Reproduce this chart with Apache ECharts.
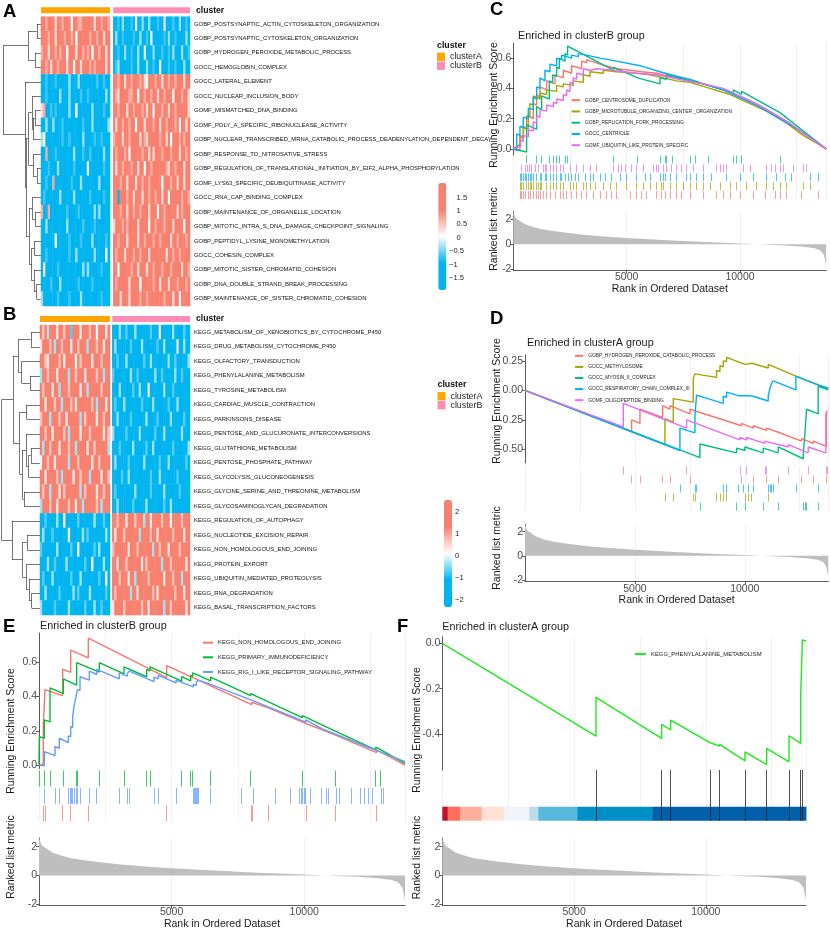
<!DOCTYPE html>
<html>
<head>
<meta charset="utf-8">
<script src="https://cdn.jsdelivr.net/npm/echarts@6.0.0/dist/echarts.min.js"></script>
<style>
html,body{margin:0;padding:0;background:#fff;}
#chart{width:830px;height:931px;}
</style>
</head>
<body>
<div id="chart"></div>
<script>
// ---------------- heatmap data (A: GO terms, B: KEGG terms) ----------------
var goTerms = [
  'GOBP_POSTSYNAPTIC_ACTIN_CYTOSKELETON_ORGANIZATION',
  'GOBP_POSTSYNAPTIC_CYTOSKELETON_ORGANIZATION',
  'GOBP_HYDROGEN_PEROXIDE_METABOLIC_PROCESS',
  'GOCC_HEMOGLOBIN_COMPLEX',
  'GOCC_LATERAL_ELEMENT',
  'GOCC_NUCLEAR_INCLUSION_BODY',
  'GOMF_MISMATCHED_DNA_BINDING',
  'GOMF_POLY_A_SPECIFIC_RIBONUCLEASE_ACTIVITY',
  'GOBP_NUCLEAR_TRANSCRIBED_MRNA_CATABOLIC_PROCESS_DEADENYLATION_DEPENDENT_DECAY',
  'GOBP_RESPONSE_TO_NITROSATIVE_STRESS',
  'GOBP_REGULATION_OF_TRANSLATIONAL_INITIATION_BY_EIF2_ALPHA_PHOSPHORYLATION',
  'GOMF_LYS63_SPECIFIC_DEUBIQUITINASE_ACTIVITY',
  'GOCC_RNA_CAP_BINDING_COMPLEX',
  'GOBP_MAINTENANCE_OF_ORGANELLE_LOCATION',
  'GOBP_MITOTIC_INTRA_S_DNA_DAMAGE_CHECKPOINT_SIGNALING',
  'GOBP_PEPTIDYL_LYSINE_MONOMETHYLATION',
  'GOCC_COHESIN_COMPLEX',
  'GOBP_MITOTIC_SISTER_CHROMATID_COHESION',
  'GOBP_DNA_DOUBLE_STRAND_BREAK_PROCESSING',
  'GOBP_MAINTENANCE_OF_SISTER_CHROMATID_COHESION'
];
var keggTerms = [
  'KEGG_METABOLISM_OF_XENOBIOTICS_BY_CYTOCHROME_P450',
  'KEGG_DRUG_METABOLISM_CYTOCHROME_P450',
  'KEGG_OLFACTORY_TRANSDUCTION',
  'KEGG_PHENYLALANINE_METABOLISM',
  'KEGG_TYROSINE_METABOLISM',
  'KEGG_CARDIAC_MUSCLE_CONTRACTION',
  'KEGG_PARKINSONS_DISEASE',
  'KEGG_PENTOSE_AND_GLUCURONATE_INTERCONVERSIONS',
  'KEGG_GLUTATHIONE_METABOLISM',
  'KEGG_PENTOSE_PHOSPHATE_PATHWAY',
  'KEGG_GLYCOLYSIS_GLUCONEOGENESIS',
  'KEGG_GLYCINE_SERINE_AND_THREONINE_METABOLISM',
  'KEGG_GLYCOSAMINOGLYCAN_DEGRADATION',
  'KEGG_REGULATION_OF_AUTOPHAGY',
  'KEGG_NUCLEOTIDE_EXCISION_REPAIR',
  'KEGG_NON_HOMOLOGOUS_END_JOINING',
  'KEGG_PROTEIN_EXPORT',
  'KEGG_UBIQUITIN_MEDIATED_PROTEOLYSIS',
  'KEGG_RNA_DEGRADATION',
  'KEGG_BASAL_TRANSCRIPTION_FACTORS'
];
// one char per sample, read by eye: R high .. B low
var cellLevels = {R: 1.8, q: 0.7, p: 0.35, w: 0, c: -0.35, d: -0.7, B: -1.8};
var goClusterA = [
  'RRqRR RpRRq RRRwR RqqRR RRRpR RqRRq',
  'RRRqR RpRRR qRRqR wRRRR RqRRq RRpRR',
  'qRRpR RqRqR RwRRR pRRqR qRwRR qRRpR',
  'RRqRp RRqRR RpRRw RRpRR RqRqR RRRpR',
  'BBdBB BdBBB BBcBB BcBBB BBBBd BBdBB',
  'BBdBB BBBcB BBcBB BBdBB dBBBB BBBcB',
  'pqBBd BdBBB BBcBB wBBBB BBcBB BBdBB',
  'BBcBB cBBBd BBBBB BBBdB BBcBB BBBBc',
  'cwBBB BBBBd BBdBB BBBcB BBBdB BdBBB',
  'BBqBB BdBBB BBBBc BBBdB BdBBB BBcBB',
  'BBBdB BBcBB BBBBd BBBBB wBBBB BBdBB',
  'BBdBB qBBBB BBBdB BBcBB BBBBB cBBBB',
  'BdBBB BBBcB BBBBc BBBBB BdBBB BBdBB',
  'qBBqB BBBBB BdBBB BdBBB BBBcB cBBBB',
  'BBcBB BBBBB BcBBB BBBdB BBBdB BBBBB',
  'BBBBB BwBBB BBdBB BBdBB BBcBB BBBdB',
  'BBdBB BBBBB BBdBB cBBBB BBBcB BBBwB',
  'BpBBB BBdBB BBBBB BBBcB cBBBB BdBBB',
  'BBBBd BBBcB BBBBB BdBBB BBdBB BBBBB',
  'cBBBB BBdBB BBdBB BBcBB BBBBB BdBBB'
];
var goClusterB = [
  'BBdBc BBBdB wBBcB BcBBB dBBpB BBdBB cBBdB',
  'BcBBd BBBBd BBcBB dBwBB BBBdB cBBdB BBBcB',
  'BBdBB cBBdB BcBBw BBBcB BBdBB dBcBB BcBBd',
  'BdcBB BBBdB BcBBB cBBdB BwBBB dBBdB BBcBB',
  'RRqRR pRRqR RRqRp wRRRq RRpRR qRRqR RRpRR',
  'RqpRR RRqqR RwRRq RRqRR pRRqR RRwRR RqRRp',
  'RRqRR RpRRq RRRqR pRRwR RRqRR pRRqR RRRRp',
  'RpRRq RRqRR wRRRp RRRqR RpRRq RRRqR wRRpR',
  'qRRRp RRqRR RRpRq pRRRR RqRRp RwRRR qRqRR',
  'RqRRR qRwRR RRRqR RpRpR RRqRR RqRRR pRRqR',
  'RpRRq RRRqR RpRRw RRqRR RRRRq pRRqR RRpRR',
  'RRRqR RpRRR pRRqR RqRRR RRwRR RqRRp RRpRR',
  'RRBRR RqRRp RRRpR RqRRq RRpRR wRRRR RqRRq',
  'RRRqR RpRRq RRqRR RpRRR wRRqR RRRRp RqRRR',
  'pRRRq RqRRR RpRRR RwRRq RRRqR RRpRR RRwRR',
  'RRqRR RpRRR RpRRq RRRqR RqRRR RpRRq RRRqR',
  'RqRRR pRRRq RRqRR RpRRR RRRRp RRqRR qRRRR',
  'RRwRR RRRqR RpRRR pRRqR RRqRR RqRRR RpRRq',
  'RqRRR RRpRR RRwRR RRRqR RpRRR pRRRq RRRqR',
  'RRRpR RRpRR RRqRR qRRRR RRRqR RRpRR wRRRR'
];
var keggClusterA = [
  'RqRcR RRpRR qRRdR RRpRR RqRRw RRRpR',
  'pRRRq RcRRq RRRpR RqRRR cRRRq RRpRR',
  'RRqpR RRRqR pRRRR wRqRR RRpRR RqRRR',
  'cRRqR RRpRR RRcRR qRRRp RRRRq RRcRR',
  'RqRRR pRRcR RRqRR RRpRR cRRRR RqRRR',
  'RRpRR RqRRc RRRqR pRRRR RRqRc RRRpR',
  'qRRRc RRRqR RpRRR RRcRq RRRRp RRqRR',
  'RRqRR pRRRR qRcRR RRpRR RqRRR RRpRq',
  'RcRRq RRRpR RRqRR cRRRR pRRqR RRRRc',
  'wRRqR RpRRR RRcRR RqRRR RRpRR qRRRR',
  'RRpRR RRqRc RRRRp RRqRR RcRRR RpRRq',
  'RqRRc RRRpR qRRRR RRcRq RRRRp RRqRR',
  'cRRRq RRpRR RRqRR pRRcR RRRRq RcRRR',
  'BBdBB BBcBB pBBBB BdBBB BBBcB BBdBB',
  'BcBBB dBBBB BBpBB BBBcB dBBBB BBBcB',
  'dBBBB BBcBB BBBdB BpBBB BBBdB cBBBB',
  'BBBcB BdBBB BcBBB BBBBd BBpBB BBcBB',
  'BdBBB cBBBB BBBdB BBcBB BBBBB dBBpB',
  'BBcBB BBBdB BBBBc BdBBB BcBBB BBBdB',
  'cBBBB BdBBB BBcBB BBBBd BBBcB BdBBB'
];
var keggClusterB = [
  'BBBcB BdBBB cBBBB BBdBB BpBBB BBcBB BBdBB',
  'BcBBB BBBdB BBBcB BBBBB dBBcB BBBBp BBcBB',
  'BBdBB BcBBB BBBBd BBcBB BBBBB cBBdB BBBBc',
  'dBBBB BBBcB BdBBB BBBBc BBdBB BBBcB BdBBB',
  'BBBcB BBBBd BBcBB BpBBB BBBcB BBdBB BBBBB',
  'BdBBB cBBBB BBBdB BBBcB BBBBB dBBBc BBBBB',
  'BBcBB BBBdB BBBBB cBBBB dBBBB BcBBB BBdBB',
  'cBBBB BdBBB BBcBB BBBBd BBBcB BBBBB BcBBB',
  'BBBdB BBBBc BBBBB dBBcB BBBBB BBdBB BBBBc',
  'BcBBB BBdBB BBBBc BBBBB BdBBB cBBBB BBBdB',
  'BBBBd BBcBB BBBBB BBdBB BcBBB BBBBd BBBBB',
  'BdBBB BBBBB cBBBB BBdBB BBBcB BBBBB dBBBB',
  'BBcBB BBBBd BBBBB cBBBB BBBdB BcBBB BBBBB',
  'RRqRR RpRRR qRRRc RRpRR RRqRR RwRRR RqRRR',
  'RpRRR qRRRR RRcRR RRqRR pRRRR RRqRR RRpRR',
  'qRRRR RRpRR RqRRR RRRcR RqRRR pRRRR qRRRR',
  'RRpRR RqRRR RRRpR qRRRR RRcRR RqRRR RRRpR',
  'RRRqR RRpRR cRRRR RqRRR RRRpR RRqRR RcRRR',
  'RqRRR RRRcR RpRRR RRRqR pRRRR RRRqR RRpRR',
  'pRRRR qRRRR RRRqR RpRRR RRRcR RqRRR RRRpR'
];
// row clustering trees: [left, right, height], leaves are row indices
var goTree = [
  [[0, 1, 1.1], [2, 3, 1.6], 3.4],
  [4, [
    [[5, [[6, 7, 1.6], 8, 2.1], 2.4], [9, [10, 11, 1.1], 2.1], 3.3],
    [[12, [13, 14, 1.5], 2.3], [[15, 16, 1.7], [17, [18, 19, 1.2], 1.8], 2.5], 3.1],
    4.0], 4.2],
  10];
var keggTree = [
  [
    [[0, 1, 2.4], [2, [3, 4, 2.6], 4.8], 5.7],
    [[5, 6, 3.5], [[7, [[8, 9, 2.4], 10, 3.0], 3.6], [11, 12, 4.2], 4.6], 5.3],
    7.0],
  [13, [[14, 15, 3.4], [16, [17, [18, 19, 2.2], 2.9], 3.6], 4.6], 7.3],
  10];
var goScaleTicks = [-1.5, -1, -0.5, 0, 0.5, 1, 1.5];
var keggScaleTicks = [-2, -1, 0, 1, 2];

// ---------------- GSEA data ----------------
var RANK_MAX = 13800;
var rankTicks = [5000, 10000];
var rankedMetric = [[0,2.6],[100,2.1],[250,1.9],[500,1.6],[800,1.4],[1200,1.2],[2000,0.98],[3000,0.78],
  [4000,0.62],[5000,0.5],[6000,0.39],[7000,0.3],[8000,0.21],[9000,0.13],[10000,0.06],[11000,-0.02],
  [12000,-0.1],[12800,-0.2],[13300,-0.32],[13550,-0.5],[13700,-0.85],[13800,-1.7]];
var metricTicks = [-2, 0, 2];

// C: GO, enriched in clusterB
var cNames = ['GOBP_CENTROSOME_DUPLICATION', 'GOBP_MICROTUBULE_ORGANIZING_CENTER _ORGANIZATION',
  'GOBP_REPLICATION_FORK_PROCESSING', 'GOCC_CENTRIOLE', 'GOMF_UBIQUITIN_LIKE_PROTEIN_SPECIFIC'];
var cEsCentrosome = [[0,0],[294,-0.005],[294,0.09],[441,0.08],[441,0.15],[662,0.13],[662,0.22],[882,0.2],[882,0.3],
  [1029,0.29],[1029,0.36],[1176,0.34],[1176,0.41],[1470,0.39],[1470,0.45],[1838,0.43],[1838,0.49],[2205,0.47],
  [2205,0.52],[2573,0.5],[2573,0.55],[3014,0.53],[3014,0.58],[3234,0.57],[3234,0.59],[3822,0.56],[4557,0.53],
  [5145,0.52],[5660,0.51],[6321,0.5],[6909,0.48],[7424,0.47],[7791,0.46],[8379,0.43],[9261,0.39],[9996,0.34],
  [10584,0.3],[11540,0.22],[12054,0.18],[12716,0.11],[13451,0.04],[13800,0]];
var cEsMicrotubule = [[0,0],[294,0.03],[294,0.08],[441,0.07],[441,0.14],[588,0.13],[588,0.22],[735,0.21],[735,0.3],
  [882,0.29],[882,0.35],[1176,0.33],[1176,0.37],[1470,0.36],[1470,0.39],[1911,0.38],[1911,0.42],[2205,0.41],
  [2205,0.43],[2646,0.42],[2646,0.45],[3087,0.44],[3087,0.49],[3381,0.48],[3381,0.51],[3969,0.5],[3969,0.52],
  [4557,0.51],[5439,0.5],[6027,0.49],[6615,0.47],[7203,0.45],[7791,0.44],[8673,0.4],[9555,0.36],[10290,0.31],
  [11172,0.25],[12054,0.17],[12789,0.09],[13800,0]];
var cEsReplication = [[0,0],[588,-0.02],[588,0.16],[1029,0.13],[1029,0.28],[1250,0.26],[1250,0.35],[1588,0.33],
  [1588,0.45],[1735,0.44],[1735,0.49],[1911,0.48],[1911,0.54],[2029,0.53],[2029,0.6],[2279,0.58],[2279,0.63],
  [2396,0.62],[2396,0.68],[4410,0.52],[4410,0.54],[5483,0.47],[6468,0.43],[6468,0.47],[6762,0.46],[6762,0.49],
  [7012,0.48],[7012,0.49],[7791,0.45],[7791,0.46],[8600,0.42],[8600,0.43],[9702,0.37],[9702,0.39],[10070,0.36],
  [10070,0.38],[11760,0.24],[11760,0.25],[13800,0]];
var cEsCentriole = [[0,0],[150,-0.01],[150,0.1],[294,0.09],[294,0.15],[441,0.14],[441,0.21],[662,0.2],[662,0.27],
  [882,0.26],[882,0.34],[1029,0.33],[1029,0.41],[1176,0.4],[1176,0.47],[1397,0.45],[1397,0.52],[1617,0.51],
  [1617,0.56],[1911,0.55],[1911,0.6],[2132,0.59],[2132,0.62],[2573,0.6],[2573,0.62],[2867,0.61],[2867,0.63],
  [3234,0.62],[3822,0.6],[4557,0.58],[5586,0.55],[6468,0.51],[7203,0.48],[7791,0.46],[8379,0.43],[9261,0.39],
  [10731,0.29],[12201,0.16],[13083,0.08],[13800,0]];
var cEsUbiquitin = [[0,0],[323,0.02],[323,0.06],[441,0.05],[441,0.09],[662,0.08],[662,0.125],[882,0.12],[882,0.18],
  [1029,0.17],[1029,0.22],[1176,0.21],[1176,0.26],[1470,0.25],[1470,0.29],[1764,0.28],[1764,0.31],[1911,0.3],
  [1911,0.33],[2205,0.32],[2205,0.36],[2352,0.35],[2352,0.39],[2499,0.38],[2499,0.44],[2646,0.43],[2646,0.47],
  [2793,0.46],[2793,0.5],[3087,0.49],[3087,0.53],[3381,0.52],[3675,0.53],[4410,0.52],[4851,0.51],[5439,0.5],
  [6321,0.49],[6983,0.47],[7644,0.45],[8379,0.43],[9261,0.4],[10143,0.34],[10731,0.3],[11540,0.23],[12201,0.17],
  [12936,0.09],[13800,0]];
var cHitsCentrosome = [294,368,441,515,662,735,882,1029,1103,1176,1323,1470,1617,1838,2058,2205,2352,2573,2793,
  3014,3234,3528,3822,4116,4337,4557,5145,5439,5660,5880,6321,6542,6689,6909,7203,7424,7791,8379,8967,9261,
  9555,9996,10584,11099,11540,11760,12054,12716,13451];
var cHitsMicrotubule = [294,368,441,588,662,735,809,882,1029,1103,1176,1250,1470,1617,1764,1911,2058,2205,2499,
  2646,2793,3087,3234,3381,3602,3969,4263,4557,4998,5439,5733,6027,6321,6542,6615,6909,7203,7497,7791,8085,
  8379,8673,9114,9555,9849,10290,10731,11172,11466,11760,12054,12789,13083];
var cHitsReplication = [590,1030,1250,1590,1740,1910,2030,2280,2400,4410,5480,6470,6690,6760,7010,7790,8010,
  8600,9700,9850,10070,11760];
var cHitsCentriole = [294,368,441,515,588,662,735,809,882,1029,1176,1250,1397,1470,1617,1764,1911,2058,2132,
  2279,2426,2573,2720,2867,3161,3381,3528,3822,4043,4337,4704,4998,5439,5807,6027,6468,6615,6689,6909,7203,
  7644,7791,8085,8379,8747,9408,9996,10584,11172,11613,11981,12275,13083,13451];
var cHitsUbiquitin = [368,515,617,706,809,956,1103,1323,1397,1470,1617,1764,1911,2058,2205,2499,2793,3087,3381,
  3675,4410,4631,4778,4925,5219,5439,5733,6174,6321,6395,6615,6762,6983,7203,7424,7644,7938,8379,8967,9114,
  9261,9408,10143,10437,11172,11393,11540,11760,11907,12348,12789,12936];

// D: GO, enriched in clusterA
var dNames = ['GOBP_HYDROGEN_PEROXIDE_CATABOLIC_PROCESS', 'GOCC_METHYLOSOME', 'GOCC_MYOSIN_II_COMPLEX',
  'GOCC_RESPIRATORY_CHAIN_COMPLEX_III', 'GOMF_OLIGOPEPTIDE_BINDING'];
var dEsHydrogen = [[0,0],[4851,-0.35],[4851,-0.25],[5230,-0.28],[5230,-0.16],[6261,-0.23],[6261,-0.13],
  [6595,-0.16],[6595,-0.13],[7504,-0.2],[7504,-0.16],[9854,-0.3],[9854,-0.28],[10385,-0.32],[10385,-0.3],
  [10991,-0.34],[10991,-0.32],[11522,-0.355],[11522,-0.34],[12583,-0.43],[12583,-0.41],[13113,-0.45],
  [13113,-0.43],[13720,-0.475],[13720,-0.185]];
var dEsMethylosome = [[0,0],[6367,-0.46],[6367,-0.24],[6746,-0.27],[6746,-0.07],[7656,-0.1],[7656,0.1],
  [7732,0.094],[7732,0.14],[8717,0.11],[8717,0.17],[8869,0.16],[8869,0.21],[9020,0.2],[9020,0.25],[9172,0.245],
  [9172,0.28],[10006,0.22],[10006,0.235],[10157,0.225],[10157,0.24],[10309,0.23],[10309,0.245],[11067,0.19],
  [11067,0.22],[12325,0.12],[13800,0.015]];
var dEsMyosin = [[0,0],[7959,-0.57],[7959,-0.455],[9627,-0.53],[9627,-0.49],[10006,-0.51],[10006,-0.48],
  [10839,-0.53],[10839,-0.49],[11522,-0.53],[11522,-0.48],[12659,-0.58],[12659,-0.54],[12734,-0.545],
  [12734,-0.37],[12810,-0.375],[12810,-0.16],[13341,-0.2],[13341,0.035],[13800,0.005]];
var dEsRespiratory = [[0,0],[7049,-0.51],[7049,-0.32],[7732,-0.36],[7732,-0.21],[7807,-0.22],[7807,-0.04],
  [9020,-0.11],[9020,-0.05],[9172,-0.06],[9172,-0.015],[9702,-0.045],[9702,-0.03],[9930,-0.045],[9930,-0.03],
  [10157,-0.045],[10157,-0.035],[10385,-0.05],[10385,-0.04],[11067,-0.09],[11067,-0.05],[11142,-0.055],
  [11142,0.015],[11218,0.01],[11218,0.06],[11294,0.055],[11294,0.08],[12325,0.005],[12325,0.12],[13341,0.045],
  [13341,0.05],[13800,0.02]];
var dEsOligopeptide = [[0,0],[4472,-0.31],[4472,-0.11],[7353,-0.32],[7353,-0.25],[9778,-0.42],[9778,-0.4],
  [10081,-0.42],[10081,-0.4],[10915,-0.45],[10915,-0.43],[10991,-0.44],[10991,-0.42],[11976,-0.48],[11976,-0.46],
  [12886,-0.53],[12886,-0.48],[13689,-0.53],[13689,-0.2],[13750,-0.2],[13750,-0.17]];
var dHitsHydrogen = [4851,5230,6261,6595,7504,9854,10385,10991,11522,12583,13113,13720];
var dHitsMethylosome = [6367,6746,7656,7732,8717,8869,9020,9172,10006,10157,10309,11067];
var dHitsMyosin = [7959,9627,10006,10839,11522,12659,12734,12810,13341];
var dHitsRespiratory = [7049,7732,7807,9020,9172,9702,9930,10157,10385,11067,11142,11218,11294,12325,13341];
var dHitsOligopeptide = [4472,7353,9778,10081,10915,10991,11976,12886,13689,13750];

// E: KEGG, enriched in clusterB
var eNames = ['KEGG_NON_HOMOLOGOUS_END_JOINING', 'KEGG_PRIMARY_IMMUNODEFICIENCY',
  'KEGG_RIG_I_LIKE_RECEPTOR_SIGNALING_PATHWAY'];
var eEsNhej = [[0,0],[163,0.006],[163,0.235],[226,0.23],[226,0.44],[892,0.405],[892,0.56],[1194,0.54],[1194,0.67],
  [1860,0.625],[1860,0.74],[4814,0.51],[4814,0.58],[8020,0.352],[8020,0.366],[8057,0.364],[8057,0.376],
  [8648,0.333],[8648,0.344],[10094,0.241],[10094,0.252],[11162,0.176],[11162,0.186],[12733,0.072],[12733,0.088],
  [13800,0]];
var eEsImmuno = [[0,0],[13,0],[13,0.165],[201,0.157],[201,0.264],[415,0.252],[415,0.45],[918,0.417],[918,0.503],
  [1420,0.466],[1420,0.597],[2275,0.542],[2275,0.597],[3205,0.532],[3205,0.573],[4060,0.515],[4060,0.558],
  [4186,0.55],[4186,0.573],[5380,0.489],[5380,0.515],[5719,0.491],[5719,0.523],[5795,0.517],[5795,0.538],
  [6474,0.491],[6474,0.513],[7982,0.405],[7982,0.417],[9930,0.276],[9930,0.288],[11187,0.196],[11187,0.205],
  [12696,0.088],[12696,0.104],[12859,0.092],[12859,0.1],[13800,0.01]];
var eEsRig = [[0,0],[201,-0.005],[201,0.078],[603,0.055],[603,0.108],[767,0.098],[767,0.157],[1106,0.131],
  [1106,0.17],[1194,0.165],[1194,0.225],[1270,0.22],[1270,0.284],[1320,0.28],[1320,0.342],[1395,0.337],
  [1395,0.397],[1446,0.393],[1446,0.44],[1546,0.435],[1546,0.515],[1898,0.495],[1898,0.548],[2175,0.528],
  [2175,0.558],[3029,0.503],[3029,0.538],[3331,0.519],[3331,0.534],[3406,0.528],[3406,0.548],[4337,0.487],
  [4337,0.513],[4500,0.503],[4500,0.523],[5166,0.479],[5166,0.495],[5820,0.456],[5820,0.47],[5933,0.465],
  [5933,0.483],[6008,0.478],[6008,0.495],[6448,0.472],[6448,0.483],[7643,0.401],[7643,0.411],[8083,0.374],
  [8083,0.384],[8900,0.323],[8900,0.333],[9465,0.288],[9465,0.297],[10056,0.25],[10056,0.264],[10660,0.213],
  [10660,0.223],[11225,0.178],[11225,0.188],[11791,0.143],[11791,0.153],[12420,0.104],[12420,0.114],
  [12985,0.07],[12985,0.08],[13800,0.02]];
var eHitsNhej = [163,226,892,1194,1860,4814,8020,8057,8648,10094,11162,12733];
var eHitsImmuno = [13,201,415,918,1420,1446,2275,3205,4060,4186,5380,5719,5795,6474,7982,9930,11187,12696,12859];
var eHitsRig = [201,603,767,1106,1194,1232,1270,1320,1395,1446,1546,1898,2175,3029,3331,3406,4337,4500,5166,
  5820,5858,5895,5933,5971,6008,6448,7643,8083,8900,9465,9817,9880,9930,9993,10056,10219,10660,10848,10911,
  11225,11326,11791,12105,12256,12420,12583,12922,12985];

// F: KEGG, enriched in clusterA
var fNames = ['KEGG_PHENYLALANINE_METABOLISM'];
var fEsPhenyl = [[0,0],[5832,-0.409],[5832,-0.238],[8324,-0.419],[8324,-0.357],[8665,-0.382],[8665,-0.338],
  [10158,-0.437],[10158,-0.429],[10512,-0.453],[10512,-0.444],[11486,-0.518],[11486,-0.478],[12308,-0.534],
  [12308,-0.463],[13156,-0.522],[13156,-0.407],[13599,-0.441],[13599,-0.232],[13662,-0.235],[13662,0.015],
  [13800,0.01]];
var fHitsPhenyl = [5832,8324,8665,10158,10512,11486,12308,13156,13599,13662];
var fBandBreaks = [0,202,670,1493,2353,3302,3643,5123,7970,13800];

// ---------------- styles ----------------
var FONT = '"Liberation Sans", Arial, Helvetica, sans-serif';
var heatColors = ['#00B4F0', '#00B4F0', '#FFFFFF', '#F8806F', '#F8806F'];
var clusterColors = ['#FFA500', '#FD8CB7'];
var hue5 = ['#F8766D', '#A3A500', '#00BF7D', '#00B0F6', '#E76BF3'];
var hue3 = ['#F8766D', '#00BA38', '#619CFF'];
var fLineColor = '#1DEB1D';
var fBandColors = ['#C8102E','#FF6F5A','#FFB09D','#FFE1D6','#EEF3FC','#BCDCEA','#58B7DA','#0090C8','#0060AA'];
var BAND_FRAC = 0.276;

var chart = echarts.init(document.getElementById('chart'));
var grids = [], xAxes = [], yAxes = [], series = [], legends = [], visualMaps = [], titles = [], graphics = [];

function addCell(rect, xa, ya) {
  var i = grids.length;
  grids.push(rect);
  xa.gridIndex = i; ya.gridIndex = i;
  xAxes.push(xa); yAxes.push(ya);
  return i;
}

function decode(rows) {
  var out = [];
  rows.forEach(function (s, i) {
    s = s.replace(/ /g, '');
    for (var j = 0; j < s.length; j++) out.push([j, i, cellLevels[s[j]]]);
  });
  return out;
}

function walkTree(node, segs) {
  if (typeof node === 'number') return {y: node, h: 0};
  var a = walkTree(node[0], segs), b = walkTree(node[1], segs), h = node[2];
  segs.push([[a.h, a.y], [h, a.y]]);
  segs.push([[b.h, b.y], [h, b.y]]);
  segs.push([[h, a.y], [h, b.y]]);
  return {y: (a.y + b.y) / 2, h: h};
}

// rotated y-axis title
function vTitle(text, x, y) {
  graphics.push({type: 'text', x: x, y: y, rotation: Math.PI / 2, silent: true,
    style: {text: text, fontSize: 10.5, fontFamily: FONT, fill: '#1a1a1a', textAlign: 'center', textVerticalAlign: 'middle'}});
}

function heatPanel(p) {
  var n = p.terms.length;
  var segs = [];
  walkTree(p.tree, segs);
  var gd = addCell({left: p.dendLeft, top: p.top, width: p.aLeft - p.dendLeft, height: p.height},
    {type: 'value', min: 0, max: 10, inverse: true, show: false},
    {type: 'value', min: -0.5, max: n - 0.5, inverse: true, show: false});
  series.push({type: 'lines', coordinateSystem: 'cartesian2d', xAxisIndex: gd, yAxisIndex: gd, polyline: false,
    silent: true, lineStyle: {color: '#3a3a3a', width: 0.7, opacity: 1},
    data: segs.map(function (s) { return {coords: s}; })});

  var heatIdx = [];
  [[p.aLeft, p.aWidth, p.rowsA, false], [p.bLeft, p.bWidth, p.rowsB, true]].forEach(function (b) {
    var nCols = b[2][0].replace(/ /g, '').length, cols = [];
    for (var j = 0; j < nCols; j++) cols.push(j);
    var g = addCell({left: b[0], top: p.top, width: b[1], height: p.height},
      {type: 'category', data: cols, show: false},
      b[3] ? {type: 'category', data: p.terms, inverse: true, position: 'right',
              axisLine: {show: false}, axisTick: {show: false},
              axisLabel: {interval: 0, fontSize: 5.9, color: '#111', margin: 4}}
           : {type: 'category', data: p.terms, inverse: true, show: false});
    series.push({type: 'heatmap', xAxisIndex: g, yAxisIndex: g, data: decode(b[2]), silent: true,
      itemStyle: {borderWidth: 0}, emphasis: {disabled: true}, progressive: 0});
    heatIdx.push(series.length - 1);
  });

  // cluster annotation bars
  [[p.aLeft, p.aWidth, 'clusterA'], [p.bLeft, p.bWidth, 'clusterB']].forEach(function (b, k) {
    var g = addCell({left: b[0], top: p.annTop, width: b[1], height: 6},
      {type: 'value', min: 0, max: 1, show: false},
      k === 1 ? {type: 'category', data: ['cluster'], position: 'right', axisLine: {show: false},
                 axisTick: {show: false}, axisLabel: {fontSize: 8.6, fontWeight: 'bold', color: '#111', margin: 6}}
              : {type: 'category', data: ['cluster'], show: false});
    series.push({type: 'bar', name: b[2], xAxisIndex: g, yAxisIndex: g, data: [1], barWidth: '100%',
      silent: true, itemStyle: {color: clusterColors[k]}});
  });

  // colour scale
  visualMaps.push({type: 'continuous', seriesIndex: heatIdx, min: p.vmin, max: p.vmax, calculable: false,
    hoverLink: false, left: p.barLeft, top: p.barTop, itemWidth: 8, itemHeight: p.barH, padding: 0,
    inRange: {color: heatColors}});
  addCell({left: p.barLeft, top: p.barTop, width: 8, height: p.barH},
    {type: 'value', min: 0, max: 1, show: false},
    {type: 'value', min: p.vmin, max: p.vmax, position: 'right', axisLine: {show: false},
     axisTick: {show: false}, splitLine: {show: false},
     axisLabel: {customValues: p.ticks, margin: p.tickGap, fontSize: 7.6, color: '#222', formatter: p.fmt}});

  // cluster legend
  titles.push({text: 'cluster', left: p.legLeft, top: p.legTop - 11.5, padding: 0,
    textStyle: {fontSize: 8.8, fontWeight: 'bold', color: '#111'}});
  legends.push({data: ['clusterA', 'clusterB'], orient: 'vertical', left: p.legLeft, top: p.legTop,
    icon: 'rect', itemWidth: 8, itemHeight: 8.3, itemGap: 0, padding: 0, selectedMode: false,
    textStyle: {fontSize: 8.8, color: '#222', lineHeight: 8.3}});
}

function gseaPanel(p) {
  var axLine = {show: true, onZero: false, lineStyle: {color: '#333', width: 0.8}};
  function tick(v) { return {show: true, length: 3, customValues: v, lineStyle: {color: '#333', width: 0.8}}; }
  function xBase() {
    return {type: 'value', min: 0, max: RANK_MAX, interval: 2500, axisLine: {show: false},
      axisTick: {show: false}, axisLabel: {show: false},
      splitLine: {show: true, lineStyle: {color: '#EBEBEB', width: 0.7}}};
  }
  var nameStyle = {fontSize: 10.5, color: '#1a1a1a'};
  var ge = addCell({left: p.left, top: p.es[0], width: p.width, height: p.es[1]}, xBase(),
    {type: 'value', min: p.esRange[0], max: p.esRange[1], axisLine: axLine, axisTick: tick(p.esTicks),
     splitLine: {show: false},
     axisLabel: {customValues: p.esTicks, fontSize: 10.5, color: '#4D4D4D', margin: 2,
       formatter: function (v) { return v.toFixed(p.dec); }}});
  p.sets.forEach(function (s) {
    series.push({type: 'line', name: s.name, xAxisIndex: ge, yAxisIndex: ge, data: s.curve, symbol: 'none',
      silent: true, lineStyle: {color: s.color, width: 1.4}, itemStyle: {color: s.color}});
  });

  var gh = addCell({left: p.left, top: p.hit[0], width: p.width, height: p.hit[1]}, xBase(),
    {type: 'value', min: 0, max: p.hitOrder.length, inverse: true, show: false});
  if (p.band) {
    series.push({type: 'custom', xAxisIndex: gh, yAxisIndex: gh, silent: true,
      data: p.band.slice(1).map(function (end, i) { return [p.band[i], end, i]; }),
      encode: {x: [0, 1]},
      renderItem: function (params, api) {
        var a = api.coord([api.value(0), 1]), b = api.coord([api.value(1), 1 - BAND_FRAC]);
        return {type: 'rect', shape: {x: a[0], y: b[1], width: b[0] - a[0] + 0.4, height: a[1] - b[1]},
          style: {fill: fBandColors[api.value(2)]}};
      }});
  }
  p.hitOrder.forEach(function (k, row) {
    var s = p.sets[k];
    series.push({type: 'lines', coordinateSystem: 'cartesian2d', xAxisIndex: gh, yAxisIndex: gh,
      polyline: false, silent: true,
      lineStyle: {color: p.hitColor || s.color, width: 1, opacity: p.hitOpacity},
      data: s.hits.map(function (r) { return {coords: [[r, row + p.hitPad], [r, row + 1 - p.hitPad]]}; })});
  });

  var gm = addCell({left: p.left, top: p.metric[0], width: p.width, height: p.metric[1]},
    {type: 'value', min: 0, max: RANK_MAX, interval: 2500, axisLine: axLine, axisTick: tick(rankTicks),
     axisLabel: {customValues: rankTicks, fontSize: 10.5, color: '#4D4D4D', margin: p.xLabelGap,
       formatter: function (v) { return String(v); }},
     splitLine: {show: true, lineStyle: {color: '#EBEBEB', width: 0.7}},
     name: 'Rank in Ordered Dataset', nameLocation: 'middle', nameGap: p.xNameGap, nameTextStyle: nameStyle},
    {type: 'value', min: -2.1, max: 2.6, axisLine: axLine, axisTick: tick(metricTicks), splitLine: {show: false},
     axisLabel: {customValues: metricTicks, fontSize: 10.5, color: '#4D4D4D', margin: 2}});
  series.push({type: 'line', xAxisIndex: gm, yAxisIndex: gm, data: rankedMetric, symbol: 'none', silent: true,
    lineStyle: {width: 0}, areaStyle: {color: '#BEBEBE', opacity: 1, origin: 0}});

  vTitle('Running Enrichment Score', p.yTitleX, p.yTitleY[0]);
  vTitle('Ranked list metric', p.yTitleX, p.yTitleY[1]);
  titles.push({text: p.title, left: p.titlePos[0], top: p.titlePos[1], padding: 0,
    textStyle: {fontSize: 10.8, fontWeight: 'normal', color: '#1a1a1a'}});
  legends.push({data: p.sets.map(function (s) { return s.name; }), orient: 'vertical',
    left: p.legend[0], top: p.legend[1], icon: 'rect', itemWidth: p.legend[2], itemHeight: 2,
    itemGap: p.legend[3], padding: 0, selectedMode: false,
    textStyle: {fontSize: p.legend[4], color: '#222', lineHeight: p.legend[4] + 1}});
}

function setsOf(names, colors, curves, hits) {
  return names.map(function (n, i) { return {name: n, color: colors[i], curve: curves[i], hits: hits[i]}; });
}

// ---------------- panels ----------------
heatPanel({terms: goTerms, rowsA: goClusterA, rowsB: goClusterB, tree: goTree,
  top: 16.7, height: 289.3, dendLeft: 3, aLeft: 41, aWidth: 69, bLeft: 113.3, bWidth: 76.7, annTop: 7.3,
  vmin: -1.94, vmax: 2.04, ticks: goScaleTicks, barLeft: 438.3, barTop: 183, barH: 107, tickGap: 2.7,
  fmt: function (v) { return v < 0 ? '\u2212' + Math.abs(v) : '\u2002\u2002' + v; },
  legLeft: 437, legTop: 52.3});
heatPanel({terms: keggTerms, rowsA: keggClusterA, rowsB: keggClusterB, tree: keggTree,
  top: 325, height: 290, dendLeft: 1.7, aLeft: 40, aWidth: 70, bLeft: 112.3, bWidth: 77.7, annTop: 316,
  vmin: -2.32, vmax: 2.53, ticks: keggScaleTicks, barLeft: 444, barTop: 500, barH: 107, tickGap: 3,
  fmt: function (v) { return v < 0 ? '\u2212' + Math.abs(v) : '' + v; },
  legLeft: 437.5, legTop: 391.7});

gseaPanel({left: 513.3, width: 312.9, es: [43, 112], esRange: [-0.04, 0.70], esTicks: [0, 0.2, 0.4, 0.6], dec: 1,
  hit: [155, 44.5], metric: [211.5, 59.1], xNameGap: 11, xLabelGap: 1, yTitleX: 494, yTitleY: [105, 229],
  sets: setsOf(cNames, hue5, [cEsCentrosome, cEsMicrotubule, cEsReplication, cEsCentriole, cEsUbiquitin],
    [cHitsCentrosome, cHitsMicrotubule, cHitsReplication, cHitsCentriole, cHitsUbiquitin]),
  hitOrder: [2, 4, 3, 1, 0], hitPad: 0.06, hitOpacity: 0.7,
  title: 'Enriched in clusterB group', titlePos: [518, 30.5], legend: [571.7, 97.3, 8.3, 5.45, 4.8]});

gseaPanel({left: 525, width: 303.3, es: [355, 108], esRange: [-0.616, 0.30], esTicks: [-0.5, -0.25, 0, 0.25], dec: 2,
  hit: [466, 45], metric: [524.4, 56.8], xNameGap: 11.3, xLabelGap: 2, yTitleX: 497.5, yTitleY: [401, 548],
  sets: setsOf(dNames, hue5, [dEsHydrogen, dEsMethylosome, dEsMyosin, dEsRespiratory, dEsOligopeptide],
    [dHitsHydrogen, dHitsMethylosome, dHitsMyosin, dHitsRespiratory, dHitsOligopeptide]),
  hitOrder: [4, 0, 3, 1, 2], hitPad: 0.06, hitOpacity: 0.7,
  title: 'Enriched in clusterA group', titlePos: [527, 337.5], legend: [575, 352.9, 8.3, 5.3, 4.8]});

gseaPanel({left: 39, width: 366, es: [633, 135.5], esRange: [-0.02, 0.77], esTicks: [0, 0.2, 0.4, 0.6], dec: 1,
  hit: [770, 52], metric: [838, 68.5], xNameGap: 12.5, xLabelGap: 1.5, yTitleX: 11, yTitleY: [731, 857],
  sets: setsOf(eNames, hue3, [eEsNhej, eEsImmuno, eEsRig], [eHitsNhej, eHitsImmuno, eHitsRig]),
  hitOrder: [1, 2, 0], hitPad: 0.04, hitOpacity: 0.75,
  title: 'Enriched in clusterB group', titlePos: [40, 621], legend: [203, 639.2, 10, 7.75, 5.9]});

gseaPanel({left: 442.3, width: 363.7, es: [636.7, 133.3], esRange: [-0.558, 0.029], esTicks: [-0.4, -0.2, 0], dec: 1,
  hit: [770, 50.7], metric: [838, 68.5], xNameGap: 12.5, xLabelGap: 1.5, yTitleX: 416.7, yTitleY: [730, 857.5],
  sets: setsOf(fNames, [fLineColor], [fEsPhenyl], [fHitsPhenyl]),
  hitOrder: [0], hitPad: 0, hitOpacity: 0.8, hitColor: '#222', band: fBandBreaks,
  title: 'Enriched in clusterA group', titlePos: [442.3, 621.5], legend: [635, 650.5, 11, 5, 5.9]});

// panel letters
[['A', 3, 2.5], ['B', 3, 305.5], ['C', 490, 0.5], ['D', 490, 309.5], ['E', 3, 617.5], ['F', 397, 617.5]]
  .forEach(function (t) {
    titles.push({text: t[0], left: t[1], top: t[2], padding: 0,
      textStyle: {fontSize: 18.5, fontWeight: 'bold', color: '#000'}});
  });

chart.setOption({
  animation: false,
  backgroundColor: '#ffffff',
  textStyle: {fontFamily: FONT},
  title: titles,
  legend: legends,
  grid: grids,
  xAxis: xAxes,
  yAxis: yAxes,
  visualMap: visualMaps,
  series: series,
  graphic: graphics
});
</script>
</body>
</html>
